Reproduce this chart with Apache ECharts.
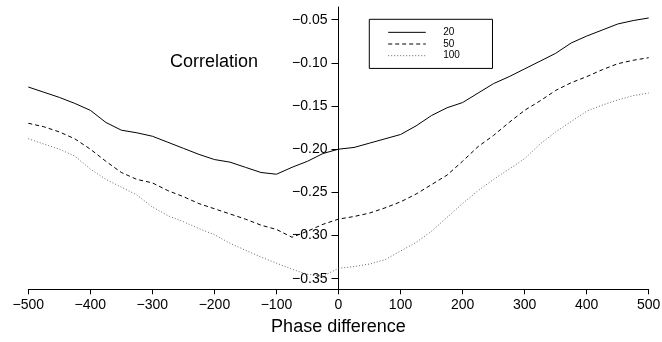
<!DOCTYPE html>
<html>
<head>
<meta charset="utf-8">
<script src="https://cdn.jsdelivr.net/npm/echarts@6/dist/echarts.min.js"></script>
<style>
  html, body { margin: 0; padding: 0; background: #fff; }
  #chart { width: 662px; height: 342px; }
</style>
</head>
<body>
<div id="chart"></div>
<script>
// phase difference, sampled every 25
const phase = [-500, -475, -450, -425, -400, -375, -350, -325, -300, -275, -250,
  -225, -200, -175, -150, -125, -100, -75, -50, -25, 0, 25, 50, 75, 100, 125,
  150, 175, 200, 225, 250, 275, 300, 325, 350, 375, 400, 425, 450, 475, 500];

const corr20 = [-0.128, -0.134, -0.140, -0.147, -0.155, -0.169, -0.178, -0.181,
  -0.185, -0.192, -0.199, -0.206, -0.212, -0.215, -0.221, -0.227, -0.229, -0.221,
  -0.214, -0.205, -0.200, -0.198, -0.193, -0.188, -0.183, -0.173, -0.161, -0.152,
  -0.146, -0.135, -0.124, -0.116, -0.107, -0.098, -0.089, -0.077, -0.069, -0.062,
  -0.055, -0.051, -0.048];

const corr50 = [-0.170, -0.174, -0.180, -0.188, -0.200, -0.214, -0.227, -0.235,
  -0.239, -0.248, -0.255, -0.263, -0.269, -0.275, -0.281, -0.288, -0.293, -0.302,
  -0.295, -0.287, -0.281, -0.278, -0.274, -0.268, -0.261, -0.252, -0.241, -0.230,
  -0.214, -0.197, -0.184, -0.169, -0.155, -0.144, -0.132, -0.123, -0.116, -0.108,
  -0.101, -0.097, -0.094];

const corr100 = [-0.188, -0.194, -0.200, -0.208, -0.223, -0.235, -0.244, -0.253,
  -0.267, -0.277, -0.284, -0.292, -0.299, -0.309, -0.317, -0.325, -0.332, -0.339,
  -0.345, -0.347, -0.338, -0.336, -0.333, -0.328, -0.318, -0.308, -0.295, -0.279,
  -0.263, -0.248, -0.235, -0.223, -0.211, -0.194, -0.180, -0.168, -0.156, -0.149,
  -0.143, -0.138, -0.135];

const seriesNames = ['20', '50', '100'];
const yTicks = [-0.35, -0.30, -0.25, -0.20, -0.15, -0.10, -0.05];

const font = 'Liberation Sans, Arial, sans-serif';
const minus = s => String(s).replace('-', '\u2212');

function pairs(ys) {
  return phase.map((x, i) => [x, ys[i]]);
}

const chart = echarts.init(document.getElementById('chart'));
chart.setOption({
  animation: false,
  textStyle: { fontFamily: font },
  grid: {
    left: 28.3, right: 13.3, top: 7, bottom: 52.7,
    containLabel: false, outerBoundsMode: 'none'
  },
  legend: {
    data: seriesNames,
    orient: 'vertical',
    left: 369.3,
    top: 19.3,
    itemWidth: 37.6,
    itemHeight: 11.67,
    itemGap: 0,
    padding: [7.2, 32.6, 6.9, 18.4],
    borderColor: '#000',
    borderWidth: 1,
    lineStyle: { width: 1 },
    itemStyle: { color: 'transparent', borderColor: 'transparent', borderWidth: 0, opacity: 0 },
    textStyle: { fontSize: 10, color: '#000', lineHeight: 11.67, padding: [0, 0, 0, 12.4] }
  },
  graphic: [{
    type: 'text',
    left: 170,
    top: 53.5,
    style: { text: 'Correlation', font: '18px ' + font, fill: '#000' }
  }],
  xAxis: {
    type: 'value',
    min: -500,
    max: 500,
    interval: 100,
    name: 'Phase difference',
    nameLocation: 'middle',
    nameGap: 29,
    nameTextStyle: { fontSize: 18, color: '#000' },
    axisLine: { onZero: false, lineStyle: { color: '#000', width: 1 } },
    axisTick: { length: 5, lineStyle: { color: '#000' } },
    axisLabel: { fontSize: 14, color: '#000', margin: 9, formatter: minus },
    splitLine: { show: false }
  },
  yAxis: {
    type: 'value',
    min: -0.3623,
    max: -0.0353,
    position: 'left',
    offset: -310.2,
    axisLine: { show: true, onZero: false, lineStyle: { color: '#000', width: 1 } },
    axisTick: { show: true, length: 7, customValues: yTicks, lineStyle: { color: '#000' } },
    axisLabel: {
      fontSize: 14, color: '#000', margin: 11, customValues: yTicks,
      formatter: v => minus(v.toFixed(2))
    },
    splitLine: { show: false }
  },
  series: [
    {
      name: seriesNames[0], type: 'line', data: pairs(corr20),
      symbol: 'none', color: '#000',
      lineStyle: { color: '#000', width: 1 }
    },
    {
      name: seriesNames[1], type: 'line', data: pairs(corr50),
      symbol: 'none', color: '#000',
      lineStyle: { color: '#000', width: 1, type: [4, 3] }
    },
    {
      name: seriesNames[2], type: 'line', data: pairs(corr100),
      symbol: 'none', color: '#666',
      lineStyle: { color: '#666', width: 1, type: [1, 2] }
    }
  ]
});
</script>
</body>
</html>
